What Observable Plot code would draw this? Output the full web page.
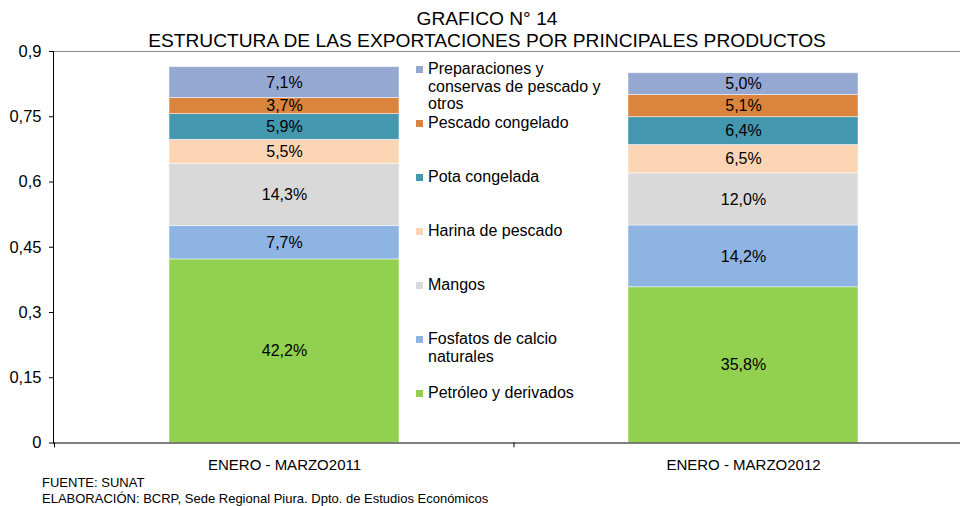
<!DOCTYPE html>
<html><head><meta charset="utf-8">
<script src="https://cdn.jsdelivr.net/npm/d3@7"></script>
<script src="https://cdn.jsdelivr.net/npm/@observablehq/plot@0.6"></script>
<style>
body{margin:0;background:#fff;font-family:"Liberation Sans",Arial,sans-serif;color:#000;}
#wrap{position:relative;width:960px;height:506px;overflow:hidden;}
#wrap svg{position:absolute;left:0;top:0;}
.title{position:absolute;font-size:19.2px;line-height:22px;white-space:nowrap;transform:translateX(-50%);}
#legend{position:absolute;left:416px;top:60px;}
.item{height:54px;display:flex;align-items:flex-start;}
.sw{width:7px;height:7px;margin-top:6px;flex:none;}
.lab{font-size:16px;line-height:17.5px;width:184px;margin-left:5px;}
#notes{position:absolute;left:42px;top:475px;font-size:13px;line-height:16px;white-space:nowrap;}
</style></head><body><div id="wrap"></div>
<script>
const periods = ["ENERO - MARZO2011", "ENERO - MARZO2012"];
const products = ["Petróleo y derivados", "Fosfatos de calcio naturales", "Mangos", "Harina de pescado", "Pota congelada", "Pescado congelado", "Preparaciones y conservas de pescado y otros"];
const colors = ["#92D050", "#8DB4E2", "#D9D9D9", "#FCD5B4", "#4397AF", "#DB843D", "#95A8D2"];
const values2011 = [0.422, 0.077, 0.143, 0.055, 0.059, 0.037, 0.071];
const values2012 = [0.358, 0.142, 0.120, 0.065, 0.064, 0.051, 0.050];
const yTicks = [0, 0.15, 0.3, 0.45, 0.6, 0.75, 0.9];
const titleLines = ["GRAFICO N° 14", "ESTRUCTURA DE LAS EXPORTACIONES POR PRINCIPALES PRODUCTOS"];
const notes = ["FUENTE: SUNAT", "ELABORACIÓN: BCRP, Sede Regional Piura. Dpto. de Estudios Económicos"];

const series = [values2011, values2012];
const data = periods.flatMap((p, i) => products.map((prod, j) => ({period: p, product: prod, value: series[i][j]})));
const comma = v => String(v).replace(".", ",");

const chart = Plot.plot({
  width: 960, height: 506,
  marginTop: 51, marginBottom: 63.5, marginLeft: 53, marginRight: 0,
  style: {fontFamily: "Liberation Sans, Arial, sans-serif", background: "transparent", color: "#000"},
  x: {domain: periods, range: [54, 972], paddingInner: 0.5, paddingOuter: 0.25, label: null},
  y: {domain: [0, 0.9], label: null},
  color: {domain: products, range: colors},
  marks: [
    Plot.frame({anchor: "top", stroke: "#8c8c8c"}),
    Plot.barY(data, {x: "period", y: "value", fill: "product", order: products, stroke: "#ffffff", strokeOpacity: 0.6, strokeWidth: 0.8}),
    Plot.text(data, Plot.stackY({x: "period", y: "value", z: "product", order: products,
      text: d => (d.value * 100).toFixed(1).replace(".", ",") + "%", fontSize: 16, fill: "#000"})),
    Plot.axisY({ticks: yTicks, tickFormat: comma, tickSize: 4, tickPadding: 8, fontSize: 16.5, label: null, stroke: "#000"}),
    Plot.axisX({tickSize: 0, tickPadding: 16, fontSize: 15, letterSpacing: -0.5, label: null}),
    Plot.frame({anchor: "left", stroke: "#000"}),
    Plot.frame({anchor: "bottom", stroke: "#000"}),
    Plot.ruleX([periods[0]], {y1: 0, y2: -0.011, dx: 229.5, stroke: "#000"}),
    Plot.ruleX([periods[0]], {y1: 0, y2: -0.011, dx: -230, stroke: "#000"})
  ]
});

const wrap = document.getElementById("wrap");
wrap.appendChild(chart);

titleLines.forEach((t, i) => {
  const d = document.createElement("div");
  d.className = "title";
  d.textContent = t;
  d.style.left = "487px";
  d.style.top = (8 + i * 21.5) + "px";
  wrap.appendChild(d);
});

const legend = document.createElement("div");
legend.id = "legend";
products.slice().reverse().forEach(p => {
  const it = document.createElement("div");
  it.className = "item";
  const sw = document.createElement("div");
  sw.className = "sw";
  sw.style.background = colors[products.indexOf(p)];
  const lab = document.createElement("div");
  lab.className = "lab";
  lab.textContent = p;
  it.appendChild(sw); it.appendChild(lab);
  legend.appendChild(it);
});
wrap.appendChild(legend);

const n = document.createElement("div");
n.id = "notes";
n.innerHTML = notes.map(s => s.replace(/&/g, "&amp;")).join("<br>");
wrap.appendChild(n);
</script>
</body></html>
